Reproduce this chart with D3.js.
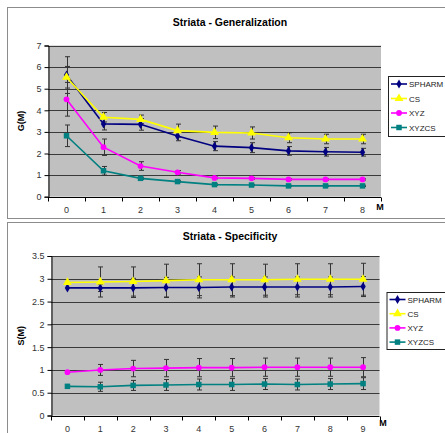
<!DOCTYPE html>
<html><head><meta charset="utf-8">
<script src="https://cdn.jsdelivr.net/npm/d3@7"></script>
<style>
html,body{margin:0;padding:0;background:#fff;}
svg{display:block;font-family:"Liberation Sans",Arial,sans-serif;}
</style></head>
<body>
<svg id="c" width="445" height="433"></svg>
<script>
// ---- Data ----
const seriesNames = ["SPHARM", "CS", "XYZ", "XYZCS"];
const seriesColors = ["#000080", "#FFFF00", "#FF00FF", "#008080"];
const seriesMarkers = ["diamond", "triangle", "circle", "square"];

const catsG = ["0","1","2","3","4","5","6","7","8"];
const yTicksG = [0,1,2,3,4,5,6,7];
const spharmG = [5.63, 3.37, 3.35, 2.81, 2.34, 2.27, 2.12, 2.08, 2.06];
const csG     = [5.53, 3.68, 3.58, 3.06, 2.98, 2.95, 2.73, 2.67, 2.67];
const xyzG    = [4.51, 2.29, 1.42, 1.13, 0.87, 0.85, 0.80, 0.80, 0.80];
const xyzcsG  = [2.82, 1.20, 0.85, 0.70, 0.56, 0.54, 0.50, 0.50, 0.50];
const spharmGErr = [0.85, 0.28, 0.27, 0.22, 0.21, 0.23, 0.20, 0.20, 0.18];
const csGErr     = [0.50, 0.22, 0.20, 0.30, 0.29, 0.28, 0.23, 0.22, 0.22];
const xyzGErr    = [0.78, 0.38, 0.20, 0.08, 0.04, 0.04, 0.03, 0.03, 0.03];
const xyzcsGErr  = [0.50, 0.20, 0.05, 0.04, 0.03, 0.03, 0.03, 0.03, 0.03];

const catsS = ["0","1","2","3","4","5","6","7","8","9"];
const yTicksS = [0,0.5,1,1.5,2,2.5,3,3.5];
const spharmS = [2.80, 2.80, 2.80, 2.81, 2.81, 2.82, 2.82, 2.82, 2.82, 2.83];
const csS     = [2.92, 2.93, 2.94, 2.96, 2.98, 2.98, 2.98, 2.99, 2.99, 2.99];
const xyzS    = [0.95, 1.00, 1.03, 1.04, 1.05, 1.05, 1.06, 1.06, 1.06, 1.06];
const xyzcsS  = [0.64, 0.63, 0.66, 0.67, 0.68, 0.68, 0.69, 0.68, 0.69, 0.70];
const spharmSErr = [0, 0.08, 0.21, 0.22, 0.23, 0.22, 0.22, 0.22, 0.22, 0.22];
const csSErr     = [0, 0.33, 0.32, 0.36, 0.35, 0.35, 0.34, 0.34, 0.34, 0.35];
const xyzSErr    = [0, 0.12, 0.18, 0.19, 0.20, 0.20, 0.20, 0.20, 0.20, 0.21];
const xyzcsSErr  = [0, 0.10, 0.11, 0.12, 0.12, 0.13, 0.12, 0.12, 0.12, 0.13];

const svg = d3.select("#c");

function markerPath(type) {
  const m = {diamond: d3.symbolDiamond, triangle: d3.symbolTriangle, circle: d3.symbolCircle, square: d3.symbolSquare}[type];
  const size = {diamond: 24, triangle: 34, circle: 26, square: 30}[type];
  return d3.symbol().type(m).size(size)();
}

function drawChart(cfg) {
  const g = svg.append("g");
  // chart frame
  g.append("rect").attr("x", cfg.frame[0]).attr("y", cfg.frame[1])
    .attr("width", cfg.frame[2]).attr("height", cfg.frame[3])
    .attr("fill", "#fff").attr("stroke", "#8c8c8c").attr("stroke-width", 1);

  const x = d3.scaleBand().domain(cfg.cats).range([cfg.plot.x0, cfg.plot.x1]).padding(0);
  const y = d3.scaleLinear().domain([0, cfg.ymax]).range([cfg.plot.y1, cfg.plot.y0]);

  // plot background
  g.append("rect").attr("x", cfg.plot.x0).attr("y", cfg.plot.y0)
    .attr("width", cfg.plot.x1 - cfg.plot.x0).attr("height", cfg.plot.y1 - cfg.plot.y0)
    .attr("fill", "#c0c0c0");

  // gridlines
  g.selectAll(".grid").data(cfg.yTicks.filter(d => d > 0)).enter().append("line")
    .attr("x1", cfg.plot.x0).attr("x2", cfg.plot.x1)
    .attr("y1", d => Math.round(y(d)) + 0.5).attr("y2", d => Math.round(y(d)) + 0.5)
    .attr("stroke", "#3a3a3a").attr("stroke-width", 1);

  // y axis
  const yAxis = d3.axisLeft(y).tickValues(cfg.yTicks).tickSize(4).tickPadding(3)
    .tickFormat(d => String(d));
  const ya = g.append("g").attr("transform", `translate(${cfg.plot.x0 + 0.5},0)`).call(yAxis);
  ya.select(".domain").attr("stroke", "#000");
  ya.selectAll(".tick line").attr("stroke", "#000");
  ya.selectAll("text").attr("font-size", 9).attr("fill", "#333")
    .attr("font-family", "'Liberation Sans',Arial,sans-serif");

  // x axis: labels at centers, ticks at boundaries
  const xAxis = d3.axisBottom(x).tickSize(0).tickPadding(cfg.xLabelPad);
  const xa = g.append("g").attr("transform", `translate(0,${Math.round(y(0)) + 0.5})`).call(xAxis);
  xa.select(".domain").remove();
  xa.selectAll("text").attr("font-size", 9).attr("fill", "#333")
    .attr("font-family", "'Liberation Sans',Arial,sans-serif");
  const bounds = cfg.cats.map(c => x(c)).concat([x(cfg.cats[cfg.cats.length - 1]) + x.bandwidth()]);
  const y0 = Math.round(y(0)) + 0.5;
  g.append("line").attr("x1", cfg.plot.x0).attr("x2", cfg.plot.x1).attr("y1", y0).attr("y2", y0)
    .attr("stroke", "#000");
  g.selectAll(".xt").data(bounds).enter().append("line")
    .attr("x1", d => Math.round(d) + 0.5).attr("x2", d => Math.round(d) + 0.5)
    .attr("y1", y0).attr("y2", y0 + 4).attr("stroke", "#000");

  // series
  cfg.series.forEach((s, i) => {
    const pts = s.values.map((v, k) => ({x: x(cfg.cats[k]) + x.bandwidth() / 2, v, e: s.err[k]}));
    // error bars
    const eg = g.append("g").attr("stroke", "#333").attr("stroke-width", 1);
    pts.filter(p => p.e > 0).forEach(p => {
      const xx = Math.round(p.x) + 0.5;
      eg.append("line").attr("x1", xx).attr("x2", xx).attr("y1", y(p.v + p.e)).attr("y2", y(p.v - p.e));
      [p.v + p.e, p.v - p.e].forEach(t => {
        eg.append("line").attr("x1", xx - 2.5).attr("x2", xx + 2.5).attr("y1", y(t)).attr("y2", y(t));
      });
    });
  });
  cfg.series.forEach((s, i) => {
    const pts = s.values.map((v, k) => ({x: x(cfg.cats[k]) + x.bandwidth() / 2, v}));
    g.append("path").datum(pts)
      .attr("d", d3.line().x(p => p.x).y(p => y(p.v)))
      .attr("fill", "none").attr("stroke", seriesColors[i]).attr("stroke-width", 1.6);
    g.selectAll(null).data(pts).enter().append("path")
      .attr("d", markerPath(seriesMarkers[i]))
      .attr("transform", p => `translate(${p.x},${y(p.v)})`)
      .attr("fill", seriesColors[i]);
  });

  // title
  g.append("text").attr("x", cfg.titleX).attr("y", cfg.titleY).attr("text-anchor", "middle")
    .attr("font-size", 10.5).attr("font-weight", "bold").attr("fill", "#000").text(cfg.title);
  // y axis label
  const ymid = (cfg.plot.y0 + cfg.plot.y1) / 2;
  g.append("text").attr("transform", `translate(${cfg.yLabelX},${ymid}) rotate(-90)`)
    .attr("text-anchor", "middle").attr("font-size", 9).attr("font-weight", "bold")
    .attr("fill", "#000").text(cfg.yLabel);
  // x axis label M
  g.append("text").attr("x", cfg.mPos[0]).attr("y", cfg.mPos[1]).attr("text-anchor", "middle")
    .attr("font-size", 9).attr("font-weight", "bold").attr("fill", "#000").text("M");

  // legend
  const L = cfg.legend;
  g.append("rect").attr("x", L.x + 0.5).attr("y", L.y + 0.5).attr("width", 80).attr("height", L.h)
    .attr("fill", "#fff").attr("stroke", "#222").attr("stroke-width", 1);
  seriesNames.forEach((n, i) => {
    const yy = L.firstY + i * L.step;
    g.append("line").attr("x1", L.x + 3).attr("x2", L.x + 19).attr("y1", yy).attr("y2", yy)
      .attr("stroke", seriesColors[i]).attr("stroke-width", 1.6);
    g.append("path").attr("d", markerPath(seriesMarkers[i]))
      .attr("transform", `translate(${L.x + 11},${yy})`).attr("fill", seriesColors[i]);
    g.append("text").attr("x", L.x + 21).attr("y", yy + 3).attr("font-size", 8)
      .attr("fill", "#222").text(n);
  });
}

drawChart({
  frame: [7.5, 7.5, 460, 211],
  plot: {x0: 48, x1: 381, y0: 45.5, y1: 196.7},
  cats: catsG, ymax: 7, yTicks: yTicksG,
  series: [
    {values: spharmG, err: spharmGErr},
    {values: csG, err: csGErr},
    {values: xyzG, err: xyzGErr},
    {values: xyzcsG, err: xyzcsGErr}
  ],
  title: "Striata - Generalization", titleX: 230, titleY: 25.5,
  yLabel: "G(M)", yLabelX: 24,
  mPos: [380, 210],
  xLabelPad: 9,
  legend: {x: 388, y: 76, h: 60, firstY: 84, step: 14.5}
});

drawChart({
  frame: [7.5, 222.5, 460, 230],
  plot: {x0: 51, x1: 379.5, y0: 256, y1: 415.5},
  cats: catsS, ymax: 3.5, yTicks: yTicksS,
  series: [
    {values: spharmS, err: spharmSErr},
    {values: csS, err: csSErr},
    {values: xyzS, err: xyzSErr},
    {values: xyzcsS, err: xyzcsSErr}
  ],
  title: "Striata - Specificity", titleX: 230, titleY: 240,
  yLabel: "S(M)", yLabelX: 24,
  mPos: [383, 426],
  xLabelPad: 9,
  legend: {x: 386.5, y: 292, h: 57, firstY: 299.5, step: 14.2}
});
</script>
</body></html>
